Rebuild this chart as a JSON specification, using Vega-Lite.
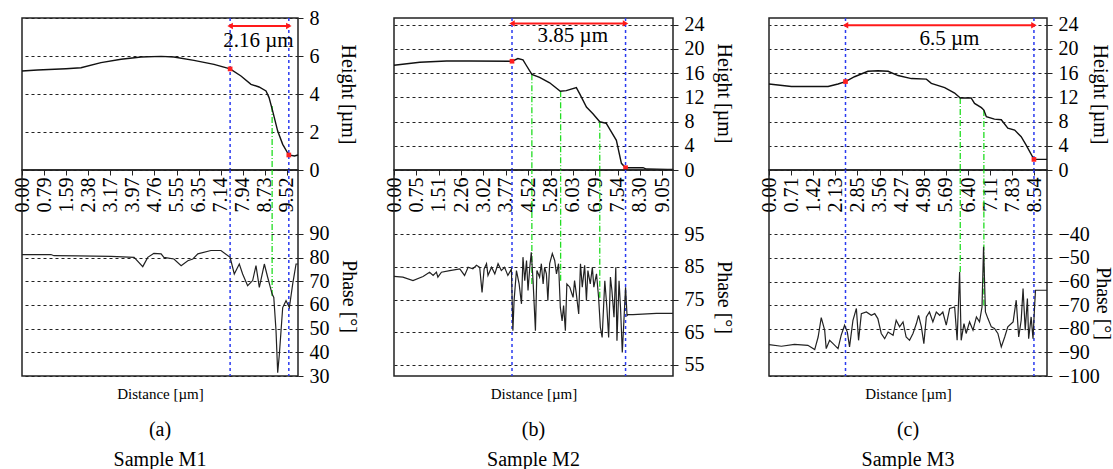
{
"$schema": "https://vega.github.io/schema/vega-lite/v6.json",
"padding": {"left": 11, "top": 7, "right": 5, "bottom": 0},
"background": "white",
"columns": 3,
"spacing": {"row": 0, "column": 96},
"bounds": "flush",
"resolve": {"scale": {"x": "independent", "y": "independent"}},
"config": {
  "font": "Liberation Serif",
  "view": {"stroke": "#222", "strokeWidth": 1.5},
  "axis": {"labelFont": "Liberation Serif", "labelFontSize": 20, "labelColor": "#000", "titleFont": "Liberation Serif", "titleFontSize": 20, "titleFontWeight": "normal", "titleColor": "#000", "gridColor": "#222", "gridDash": [3, 3], "gridWidth": 1.2, "gridOpacity": 1, "domain": false, "tickColor": "#222", "labelOverlap": false, "labelFlush": false},
  "text": {"font": "Liberation Serif"},
  "title": {"font": "Liberation Serif", "fontSize": 20, "fontWeight": "normal", "color": "#000"}
},
"datasets": {
  "a_h": [{"d":0,"v":5.21},{"d":0.56,"v":5.26},{"d":1.58,"v":5.33},{"d":2.12,"v":5.38},{"d":2.84,"v":5.65},{"d":3.56,"v":5.83},{"d":4.28,"v":5.95},{"d":5.0,"v":5.98},{"d":5.46,"v":5.95},{"d":6.18,"v":5.77},{"d":6.9,"v":5.56},{"d":7.48,"v":5.32},{"d":7.87,"v":4.95},{"d":8.23,"v":4.51},{"d":8.52,"v":4.37},{"d":8.77,"v":4.16},{"d":8.88,"v":3.81},{"d":9.01,"v":3.1},{"d":9.19,"v":2.05},{"d":9.37,"v":1.35},{"d":9.59,"v":0.79},{"d":9.79,"v":0.74},{"d":9.92,"v":0.79}],
  "a_p": [{"d":0,"v":81.3},{"d":1.04,"v":81.3},{"d":1.15,"v":80.8},{"d":2.0,"v":80.7},{"d":3.2,"v":80.5},{"d":4.03,"v":80.1},{"d":4.34,"v":76.2},{"d":4.52,"v":80.1},{"d":4.74,"v":81.8},{"d":5.0,"v":81.6},{"d":5.1,"v":80.1},{"d":5.46,"v":79.4},{"d":5.72,"v":76.6},{"d":5.96,"v":78.7},{"d":6.14,"v":79.4},{"d":6.32,"v":81.6},{"d":6.79,"v":83},{"d":7.15,"v":83},{"d":7.48,"v":80.1},{"d":7.63,"v":73.1},{"d":7.81,"v":77.3},{"d":7.93,"v":73.1},{"d":8.11,"v":68.1},{"d":8.29,"v":70.3},{"d":8.41,"v":76.6},{"d":8.53,"v":67.4},{"d":8.71,"v":77.3},{"d":8.83,"v":71.7},{"d":8.99,"v":64.6},{"d":9.05,"v":63.2},{"d":9.13,"v":49.1},{"d":9.19,"v":31.4},{"d":9.25,"v":39.2},{"d":9.37,"v":58.9},{"d":9.49,"v":61.8},{"d":9.61,"v":58.9},{"d":9.73,"v":68.9},{"d":9.85,"v":77.3},{"d":9.92,"v":77.3}],
  "a_mk": [{"d":7.48,"v":5.32},{"d":9.59,"v":0.79}],
  "a_gr": [{"d":8.99,"v":3.37,"p":63.8}],
  "a_ar": [{"d":7.48,"d2":9.59,"v":7.58}],
  "a_tx": [{"d":8.5,"v":6.8,"label":"2.16 µm"}],
  "b_h": [{"d":0,"v":17.3},{"d":0.87,"v":17.8},{"d":1.77,"v":18.0},{"d":2.55,"v":18.0},{"d":3.98,"v":17.96},{"d":4.18,"v":18.4},{"d":4.35,"v":18.2},{"d":4.46,"v":17.3},{"d":4.65,"v":15.8},{"d":4.91,"v":15.3},{"d":5.25,"v":14.4},{"d":5.61,"v":13.0},{"d":5.81,"v":13.1},{"d":6.15,"v":13.6},{"d":6.26,"v":12.6},{"d":6.49,"v":10.4},{"d":6.71,"v":9.3},{"d":6.94,"v":7.96},{"d":7.16,"v":7.7},{"d":7.5,"v":4.9},{"d":7.67,"v":1.1},{"d":7.81,"v":0.38},{"d":8.4,"v":0.38},{"d":8.51,"v":0.16},{"d":9.22,"v":0.1},{"d":9.41,"v":0.1}],
  "b_p": [{"d":0,"v":82.1},{"d":0.3,"v":81.9},{"d":0.64,"v":80.8},{"d":0.98,"v":82.1},{"d":1.2,"v":83.4},{"d":1.32,"v":82.4},{"d":1.43,"v":83.4},{"d":1.48,"v":81.9},{"d":1.6,"v":83.4},{"d":1.88,"v":83.9},{"d":2.22,"v":84.4},{"d":2.38,"v":82.4},{"d":2.5,"v":84.9},{"d":2.66,"v":84.4},{"d":2.78,"v":85.5},{"d":2.89,"v":84.9},{"d":2.97,"v":77.2},{"d":3.04,"v":84.4},{"d":3.12,"v":86.0},{"d":3.17,"v":82.4},{"d":3.29,"v":84.9},{"d":3.4,"v":82.9},{"d":3.51,"v":86.0},{"d":3.62,"v":83.9},{"d":3.73,"v":84.9},{"d":3.84,"v":82.4},{"d":3.96,"v":84.4},{"d":4.01,"v":65.5},{"d":4.05,"v":74.7},{"d":4.13,"v":83.9},{"d":4.22,"v":79.8},{"d":4.3,"v":73.7},{"d":4.35,"v":88.0},{"d":4.41,"v":80.8},{"d":4.47,"v":87.0},{"d":4.52,"v":77.8},{"d":4.58,"v":84.9},{"d":4.63,"v":89.5},{"d":4.69,"v":80.8},{"d":4.77,"v":65.5},{"d":4.82,"v":83.9},{"d":4.91,"v":81.9},{"d":4.97,"v":86.0},{"d":5.03,"v":79.8},{"d":5.08,"v":84.9},{"d":5.14,"v":82.9},{"d":5.19,"v":74.7},{"d":5.25,"v":86.0},{"d":5.34,"v":89.1},{"d":5.42,"v":87.0},{"d":5.48,"v":82.9},{"d":5.55,"v":86.0},{"d":5.61,"v":72.6},{"d":5.67,"v":68.5},{"d":5.72,"v":73.2},{"d":5.78,"v":65.5},{"d":5.83,"v":79.8},{"d":5.93,"v":78.8},{"d":6.04,"v":75.7},{"d":6.09,"v":80.8},{"d":6.15,"v":76.7},{"d":6.23,"v":70.6},{"d":6.29,"v":86.0},{"d":6.35,"v":78.8},{"d":6.43,"v":85.5},{"d":6.49,"v":74.7},{"d":6.54,"v":83.9},{"d":6.62,"v":79.8},{"d":6.69,"v":84.9},{"d":6.74,"v":78.8},{"d":6.83,"v":82.9},{"d":6.9,"v":75.7},{"d":6.96,"v":66.5},{"d":7.02,"v":63.4},{"d":7.11,"v":80.8},{"d":7.18,"v":72.6},{"d":7.24,"v":63.4},{"d":7.3,"v":81.9},{"d":7.35,"v":77.8},{"d":7.42,"v":69.6},{"d":7.48,"v":84.9},{"d":7.52,"v":62.4},{"d":7.59,"v":80.8},{"d":7.64,"v":72.6},{"d":7.7,"v":58.8},{"d":7.76,"v":69.6},{"d":7.81,"v":78.8},{"d":7.86,"v":70.1},{"d":7.89,"v":70.4},{"d":8.06,"v":70.4},{"d":8.85,"v":70.8},{"d":9.41,"v":70.8}],
  "b_mk": [{"d":3.98,"v":17.96},{"d":7.81,"v":0.38}],
  "b_gr": [{"d":4.65,"v":15.8,"p":79.8},{"d":5.62,"v":13.0,"p":80.8},{"d":6.94,"v":7.96,"p":75.6}],
  "b_ar": [{"d":3.98,"d2":7.81,"v":24.2}],
  "b_tx": [{"d":6.03,"v":22.2,"label":"3.85 µm"}],
  "c_h": [{"d":0,"v":14.2},{"d":0.72,"v":13.8},{"d":1.9,"v":13.8},{"d":2.22,"v":14.2},{"d":2.46,"v":14.6},{"d":2.75,"v":15.4},{"d":3.18,"v":16.3},{"d":3.5,"v":16.4},{"d":3.83,"v":16.3},{"d":4.15,"v":15.6},{"d":4.58,"v":15.1},{"d":5.06,"v":15.0},{"d":5.22,"v":14.3},{"d":5.65,"v":13.6},{"d":5.97,"v":12.7},{"d":6.15,"v":11.9},{"d":6.5,"v":11.9},{"d":6.61,"v":11.0},{"d":6.83,"v":10.3},{"d":6.91,"v":9.9},{"d":6.99,"v":8.8},{"d":7.25,"v":8.4},{"d":7.47,"v":8.3},{"d":7.68,"v":6.9},{"d":7.9,"v":6.6},{"d":8.11,"v":5.5},{"d":8.27,"v":4.1},{"d":8.52,"v":1.75},{"d":8.94,"v":1.75}],
  "c_p": [{"d":0,"v":-86.7},{"d":0.4,"v":-87.4},{"d":0.82,"v":-86.6},{"d":1.25,"v":-87.0},{"d":1.47,"v":-88.8},{"d":1.58,"v":-83.5},{"d":1.68,"v":-75.3},{"d":1.79,"v":-80.6},{"d":1.84,"v":-88.4},{"d":1.95,"v":-84.9},{"d":2.06,"v":-86.3},{"d":2.22,"v":-88.4},{"d":2.32,"v":-82.8},{"d":2.43,"v":-78.5},{"d":2.52,"v":-81.4},{"d":2.59,"v":-87.7},{"d":2.7,"v":-76.4},{"d":2.81,"v":-71.4},{"d":2.88,"v":-84.9},{"d":2.97,"v":-73.6},{"d":3.13,"v":-72.9},{"d":3.29,"v":-74.3},{"d":3.4,"v":-73.6},{"d":3.5,"v":-75.7},{"d":3.61,"v":-82.0},{"d":3.72,"v":-84.2},{"d":3.83,"v":-81.4},{"d":3.99,"v":-82.8},{"d":4.09,"v":-76.4},{"d":4.2,"v":-79.2},{"d":4.31,"v":-77.1},{"d":4.41,"v":-83.5},{"d":4.52,"v":-84.9},{"d":4.63,"v":-82.0},{"d":4.74,"v":-77.8},{"d":4.81,"v":-74.3},{"d":4.9,"v":-79.2},{"d":4.98,"v":-86.3},{"d":5.06,"v":-75.0},{"d":5.16,"v":-72.9},{"d":5.27,"v":-77.1},{"d":5.38,"v":-72.9},{"d":5.49,"v":-74.3},{"d":5.59,"v":-72.9},{"d":5.7,"v":-78.5},{"d":5.81,"v":-71.4},{"d":5.97,"v":-70.8},{"d":6.05,"v":-84.9},{"d":6.13,"v":-56.0},{"d":6.18,"v":-84.9},{"d":6.27,"v":-77.8},{"d":6.34,"v":-82.0},{"d":6.45,"v":-77.1},{"d":6.56,"v":-80.6},{"d":6.67,"v":-75.0},{"d":6.77,"v":-77.1},{"d":6.85,"v":-70.8},{"d":6.9,"v":-45.3},{"d":6.96,"v":-72.9},{"d":7.04,"v":-75.7},{"d":7.15,"v":-79.2},{"d":7.25,"v":-79.9},{"d":7.36,"v":-82.0},{"d":7.47,"v":-87.7},{"d":7.58,"v":-83.5},{"d":7.68,"v":-79.2},{"d":7.85,"v":-77.1},{"d":7.95,"v":-67.9},{"d":8.03,"v":-83.5},{"d":8.11,"v":-76.4},{"d":8.17,"v":-63.0},{"d":8.24,"v":-80.6},{"d":8.31,"v":-67.2},{"d":8.35,"v":-84.2},{"d":8.43,"v":-75.0},{"d":8.49,"v":-84.2},{"d":8.54,"v":-70.8},{"d":8.57,"v":-63.7},{"d":8.65,"v":-63.7},{"d":8.94,"v":-63.7}],
  "c_mk": [{"d":2.46,"v":14.6},{"d":8.52,"v":1.75}],
  "c_gr": [{"d":6.15,"v":11.9,"p":-56.0},{"d":6.91,"v":9.9,"p":-70.2}],
  "c_ar": [{"d":2.46,"d2":8.52,"v":23.9}],
  "c_tx": [{"d":5.8,"v":21.6,"label":"6.5 µm"}]
},
"concat": [
  {
    "width": 276, "height": 152,
    "encoding": {
      "x": {"field": "d", "type": "quantitative", "scale": {"domain": [0, 9.92], "nice": false, "zero": false}, "axis": {"orient": "bottom", "values": [0, 0.794, 1.587, 2.381, 3.174, 3.968, 4.761, 5.554, 6.348, 7.142, 7.936, 8.729, 9.522], "labelExpr": "format(datum.value, '.2f')", "labelAngle": 270, "labelFont": "Liberation Serif", "labelFontSize": 20, "tickSize": 5, "labelPadding": 2, "grid": false, "title": null}},
      "y": {"field": "v", "type": "quantitative", "scale": {"domain": [0, 8], "nice": false, "zero": false}, "axis": {"orient": "right", "values": [0, 2, 4, 6, 8], "grid": true, "tickSize": 5, "labelPadding": 6, "labelFont": "Liberation Serif", "labelFontSize": 20, "title": "Height [µm]", "titleFont": "Liberation Serif", "titleFontSize": 20, "titleAngle": 90, "titleX": 49, "titleY": 76, "titleAlign": "center", "titleBaseline": "middle"}}
    },
    "layer": [
      {"data": {"name": "a_mk"}, "mark": {"type": "rule", "color": "#2b3bf0", "strokeDash": [3, 3], "strokeWidth": 1.5}, "encoding": {"y": {"datum": 8}, "y2": {"datum": 0}}},
      {"data": {"name": "a_gr"}, "mark": {"type": "rule", "color": "#22dd22", "strokeDash": [6, 2, 1, 2], "strokeWidth": 1.3}, "encoding": {"y2": {"datum": 0}}},
      {"data": {"name": "a_h"}, "mark": {"type": "line", "color": "#111", "strokeWidth": 1.4}},
      {"data": {"name": "a_ar"}, "mark": {"type": "rule", "color": "#ff1a1a", "strokeWidth": 2}, "encoding": {"x2": {"field": "d2"}}},
      {"data": {"name": "a_ar"}, "mark": {"type": "point", "shape": "triangle-left", "filled": true, "color": "#ff1a1a", "size": 40, "opacity": 1}},
      {"data": {"name": "a_ar"}, "mark": {"type": "point", "shape": "triangle-right", "filled": true, "color": "#ff1a1a", "size": 40, "opacity": 1}, "encoding": {"x": {"field": "d2", "type": "quantitative"}}},
      {"data": {"name": "a_mk"}, "mark": {"type": "point", "shape": "square", "filled": true, "color": "#ff2020", "size": 22, "opacity": 1}},
      {"data": {"name": "a_tx"}, "mark": {"type": "text", "fontSize": 21, "font": "Liberation Serif", "color": "#000"}, "encoding": {"text": {"field": "label"}}}
    ]
  },
  {
    "width": 279, "height": 152,
    "encoding": {
      "x": {"field": "d", "type": "quantitative", "scale": {"domain": [0, 9.41], "nice": false, "zero": false}, "axis": {"orient": "bottom", "values": [0, 0.754, 1.508, 2.262, 3.017, 3.771, 4.524, 5.279, 6.033, 6.787, 7.541, 8.296, 9.05], "labelExpr": "format(datum.value, '.2f')", "labelAngle": 270, "labelFont": "Liberation Serif", "labelFontSize": 20, "tickSize": 5, "labelPadding": 2, "grid": false, "title": null}},
      "y": {"field": "v", "type": "quantitative", "scale": {"domain": [0, 25.1], "nice": false, "zero": false}, "axis": {"orient": "right", "values": [0, 4, 8, 12, 16, 20, 24], "grid": true, "tickSize": 5, "labelPadding": 6, "labelFont": "Liberation Serif", "labelFontSize": 20, "title": "Height [µm]", "titleFont": "Liberation Serif", "titleFontSize": 20, "titleAngle": 90, "titleX": 50, "titleY": 75, "titleAlign": "center", "titleBaseline": "middle"}}
    },
    "layer": [
      {"data": {"name": "b_mk"}, "mark": {"type": "rule", "color": "#2b3bf0", "strokeDash": [3, 3], "strokeWidth": 1.5}, "encoding": {"y": {"datum": 25.1}, "y2": {"datum": 0}}},
      {"data": {"name": "b_gr"}, "mark": {"type": "rule", "color": "#22dd22", "strokeDash": [6, 2, 1, 2], "strokeWidth": 1.3}, "encoding": {"y2": {"datum": 0}}},
      {"data": {"name": "b_h"}, "mark": {"type": "line", "color": "#111", "strokeWidth": 1.4}},
      {"data": {"name": "b_ar"}, "mark": {"type": "rule", "color": "#ff1a1a", "strokeWidth": 2}, "encoding": {"x2": {"field": "d2"}}},
      {"data": {"name": "b_ar"}, "mark": {"type": "point", "shape": "triangle-left", "filled": true, "color": "#ff1a1a", "size": 40, "opacity": 1}},
      {"data": {"name": "b_ar"}, "mark": {"type": "point", "shape": "triangle-right", "filled": true, "color": "#ff1a1a", "size": 40, "opacity": 1}, "encoding": {"x": {"field": "d2", "type": "quantitative"}}},
      {"data": {"name": "b_mk"}, "mark": {"type": "point", "shape": "square", "filled": true, "color": "#ff2020", "size": 22, "opacity": 1}},
      {"data": {"name": "b_tx"}, "mark": {"type": "text", "fontSize": 21, "font": "Liberation Serif", "color": "#000"}, "encoding": {"text": {"field": "label"}}}
    ]
  },
  {
    "width": 278, "height": 152,
    "encoding": {
      "x": {"field": "d", "type": "quantitative", "scale": {"domain": [0, 8.94], "nice": false, "zero": false}, "axis": {"orient": "bottom", "values": [0, 0.711, 1.423, 2.134, 2.846, 3.557, 4.268, 4.98, 5.691, 6.403, 7.114, 7.826, 8.537], "labelExpr": "format(datum.value, '.2f')", "labelAngle": 270, "labelFont": "Liberation Serif", "labelFontSize": 20, "tickSize": 5, "labelPadding": 2, "grid": false, "title": null}},
      "y": {"field": "v", "type": "quantitative", "scale": {"domain": [0, 25.1], "nice": false, "zero": false}, "axis": {"orient": "right", "values": [0, 4, 8, 12, 16, 20, 24], "grid": true, "tickSize": 5, "labelPadding": 6, "labelFont": "Liberation Serif", "labelFontSize": 20, "title": "Height [µm]", "titleFont": "Liberation Serif", "titleFontSize": 20, "titleAngle": 90, "titleX": 52, "titleY": 76, "titleAlign": "center", "titleBaseline": "middle"}}
    },
    "layer": [
      {"data": {"name": "c_mk"}, "mark": {"type": "rule", "color": "#2b3bf0", "strokeDash": [3, 3], "strokeWidth": 1.5}, "encoding": {"y": {"datum": 25.1}, "y2": {"datum": 0}}},
      {"data": {"name": "c_gr"}, "mark": {"type": "rule", "color": "#22dd22", "strokeDash": [6, 2, 1, 2], "strokeWidth": 1.3}, "encoding": {"y2": {"datum": 0}}},
      {"data": {"name": "c_h"}, "mark": {"type": "line", "color": "#111", "strokeWidth": 1.4}},
      {"data": {"name": "c_ar"}, "mark": {"type": "rule", "color": "#ff1a1a", "strokeWidth": 2}, "encoding": {"x2": {"field": "d2"}}},
      {"data": {"name": "c_ar"}, "mark": {"type": "point", "shape": "triangle-left", "filled": true, "color": "#ff1a1a", "size": 40, "opacity": 1}},
      {"data": {"name": "c_ar"}, "mark": {"type": "point", "shape": "triangle-right", "filled": true, "color": "#ff1a1a", "size": 40, "opacity": 1}, "encoding": {"x": {"field": "d2", "type": "quantitative"}}},
      {"data": {"name": "c_mk"}, "mark": {"type": "point", "shape": "square", "filled": true, "color": "#ff2020", "size": 22, "opacity": 1}},
      {"data": {"name": "c_tx"}, "mark": {"type": "text", "fontSize": 21, "font": "Liberation Serif", "color": "#000"}, "encoding": {"text": {"field": "label"}}}
    ]
  },
  {
    "width": 276, "height": 206,
    "title": {"text": ["(a)", "Sample M1"], "orient": "bottom", "anchor": "middle", "frame": "group", "offset": 19, "lineHeight": 30, "fontSize": 20},
    "encoding": {
      "x": {"field": "d", "type": "quantitative", "scale": {"domain": [0, 9.92], "nice": false, "zero": false}, "axis": {"labels": false, "ticks": false, "grid": false, "title": "Distance [µm]", "titleFont": "Liberation Serif", "titleFontSize": 15, "titlePadding": 10}},
      "y": {"field": "v", "type": "quantitative", "scale": {"domain": [30, 117], "nice": false, "zero": false}, "axis": {"orient": "right", "values": [30, 40, 50, 60, 70, 80, 90], "grid": true, "tickSize": 5, "labelPadding": 6, "labelFont": "Liberation Serif", "labelFontSize": 20, "title": "Phase [°]", "titleFont": "Liberation Serif", "titleFontSize": 20, "titleAngle": 90, "titleX": 50, "titleY": 126, "titleAlign": "center", "titleBaseline": "middle"}}
    },
    "layer": [
      {"data": {"name": "a_mk"}, "mark": {"type": "rule", "color": "#2b3bf0", "strokeDash": [3, 3], "strokeWidth": 1.5}, "encoding": {"y": {"datum": 117}, "y2": {"datum": 30}}},
      {"data": {"name": "a_gr"}, "mark": {"type": "rule", "color": "#22dd22", "strokeDash": [6, 2, 1, 2], "strokeWidth": 1.3}, "encoding": {"y": {"field": "p", "type": "quantitative"}, "y2": {"datum": 117}}},
      {"data": {"name": "a_p"}, "mark": {"type": "line", "color": "#222", "strokeWidth": 1.2}}
    ]
  },
  {
    "width": 279, "height": 206,
    "title": {"text": ["(b)", "Sample M2"], "orient": "bottom", "anchor": "middle", "frame": "group", "offset": 19, "lineHeight": 30, "fontSize": 20},
    "encoding": {
      "x": {"field": "d", "type": "quantitative", "scale": {"domain": [0, 9.41], "nice": false, "zero": false}, "axis": {"labels": false, "ticks": false, "grid": false, "title": "Distance [µm]", "titleFont": "Liberation Serif", "titleFontSize": 15, "titlePadding": 10}},
      "y": {"field": "v", "type": "quantitative", "scale": {"domain": [51.6, 114.7], "nice": false, "zero": false}, "axis": {"orient": "right", "values": [55, 65, 75, 85, 95], "grid": true, "tickSize": 5, "labelPadding": 6, "labelFont": "Liberation Serif", "labelFontSize": 20, "title": "Phase [°]", "titleFont": "Liberation Serif", "titleFontSize": 20, "titleAngle": 90, "titleX": 50, "titleY": 127, "titleAlign": "center", "titleBaseline": "middle"}}
    },
    "layer": [
      {"data": {"name": "b_mk"}, "mark": {"type": "rule", "color": "#2b3bf0", "strokeDash": [3, 3], "strokeWidth": 1.5}, "encoding": {"y": {"datum": 114.7}, "y2": {"datum": 51.6}}},
      {"data": {"name": "b_gr"}, "mark": {"type": "rule", "color": "#22dd22", "strokeDash": [6, 2, 1, 2], "strokeWidth": 1.3}, "encoding": {"y": {"field": "p", "type": "quantitative"}, "y2": {"datum": 114.7}}},
      {"data": {"name": "b_p"}, "mark": {"type": "line", "color": "#222", "strokeWidth": 1.2}}
    ]
  },
  {
    "width": 278, "height": 206,
    "title": {"text": ["(c)", "Sample M3"], "orient": "bottom", "anchor": "middle", "frame": "group", "offset": 19, "lineHeight": 30, "fontSize": 20},
    "encoding": {
      "x": {"field": "d", "type": "quantitative", "scale": {"domain": [0, 8.94], "nice": false, "zero": false}, "axis": {"labels": false, "ticks": false, "grid": false, "title": "Distance [µm]", "titleFont": "Liberation Serif", "titleFontSize": 15, "titlePadding": 10}},
      "y": {"field": "v", "type": "quantitative", "scale": {"domain": [-100, -12.8], "nice": false, "zero": false}, "axis": {"orient": "right", "values": [-100, -90, -80, -70, -60, -50, -40], "grid": true, "tickSize": 5, "labelPadding": 6, "labelFont": "Liberation Serif", "labelFontSize": 20, "title": "Phase [°]", "titleFont": "Liberation Serif", "titleFontSize": 20, "titleAngle": 90, "titleX": 55, "titleY": 133, "titleAlign": "center", "titleBaseline": "middle"}}
    },
    "layer": [
      {"data": {"name": "c_mk"}, "mark": {"type": "rule", "color": "#2b3bf0", "strokeDash": [3, 3], "strokeWidth": 1.5}, "encoding": {"y": {"datum": -12.8}, "y2": {"datum": -100}}},
      {"data": {"name": "c_gr"}, "mark": {"type": "rule", "color": "#22dd22", "strokeDash": [6, 2, 1, 2], "strokeWidth": 1.3}, "encoding": {"y": {"field": "p", "type": "quantitative"}, "y2": {"datum": -12.8}}},
      {"data": {"name": "c_p"}, "mark": {"type": "line", "color": "#222", "strokeWidth": 1.2}}
    ]
  }
]
}
